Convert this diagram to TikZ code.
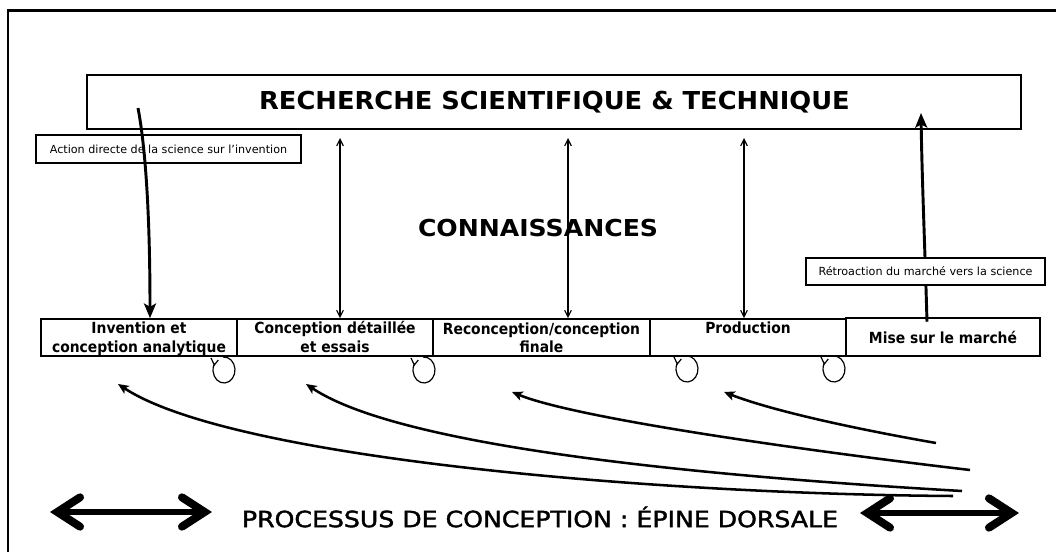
\documentclass[tikz,border=0pt]{standalone}
\usepackage{graphicx}
\usepackage{fontspec}
\setmainfont{DejaVu Sans}
\newfontfamily\cond{DejaVu Sans}[FakeStretch=0.905]
\newfontfamily\medium{DejaVu Sans}[FakeBold=1.6]
\usetikzlibrary{arrows.meta,fit,calc}
\newcommand\fitcaps[3]{\resizebox{#1}{#2}{\raisebox{0pt}[\fontcharht\font`X][0pt]{#3}}}
\begin{document}
\begin{tikzpicture}[x=0.75pt,y=-0.75pt,
  box/.style={draw, line width=1.1pt, inner sep=0pt},
  lbl/.style={draw, line width=0.9pt, inner sep=0pt},
  cell/.style={draw, line width=1.2pt, inner sep=0pt},
  cellm/.style={draw, line width=1.9pt, inner sep=0pt},
  txt/.style={inner sep=0pt},
  rowtxt/.style={inner sep=0pt, anchor=base, font=\cond\bfseries\fontsize{11.5pt}{14pt}\selectfont},
  thinarr/.style={line width=0.85pt, {Straight Barb[length=5pt,width=5pt]}-{Straight Barb[length=5pt,width=5pt]}},
  thickarr/.style={line width=2.2pt, -{Stealth[length=11pt,width=9pt,inset=2.5pt]}},
  curvarr/.style={line width=1.9pt, -{Stealth[length=8pt,width=7pt,inset=2pt]}},
  dbl/.style={line width=4.5pt,
    {Straight Barb[length=17pt,width=22pt,line width=6pt,line cap=round,line join=miter]}-{Straight Barb[length=17pt,width=22pt,line width=6pt,line cap=round,line join=miter]}},
  loopline/.style={line width=0.9pt},
  frame/.style={line width=1.9pt}]
\useasboundingbox (0,0) rectangle (1056,552);
\fill[white] (0,0) rectangle (1056,552);
% frame
\draw[frame] (8,552) -- (8,10.5) -- (1056,10.5);
% top box
\node[box, fit={(87,75) (1021,129)}] (top) {};
\node[txt, font=\bfseries] (ttl) at (554.5,101) {\fitcaps{443pt}{13.5pt}{RECHERCHE SCIENTIFIQUE \& TECHNIQUE}};
% knowledge
\node[txt, font=\bfseries] (kn) at (538,228.5) {\fitcaps{180pt}{12.75pt}{CONNAISSANCES}};
% row boxes
\node[cell, fit={(41,319) (237,356)}] (b1) {};
\node[cell, fit={(237,319) (433,356)}] (b2) {};
\node[cell, fit={(433,319) (650,356)}] (b3) {};
\node[cell, fit={(650,319) (846,356)}] (b4) {};
\node[cellm, fit={(846,318) (1040,356)}] (b5) {};
\node[rowtxt] (t1a) at (139,333.5) {Invention et};
\node[rowtxt] (t1b) at (139,352) {conception analytique};
\node[rowtxt] (t2a) at (335,333.5) {Conception détaillée};
\node[rowtxt] (t2b) at (335,352) {et essais};
\node[rowtxt] (t3a) at (541.5,334) {Reconception/conception};
\node[rowtxt] (t3b) at (541.5,352.5) {finale};
\node[rowtxt] (t4a) at (748,333.5) {Production};
\node[rowtxt] (t5a) at (943,343) {Mise sur le marché};
% thin arrows
\coordinate (k2) at (340,138);
\coordinate (k3) at (568,138);
\coordinate (k4) at (744,138);
\draw[thinarr] (k2) -- (k2 |- b2.north);
\draw[thinarr] (k3) -- (k3 |- b3.north);
\draw[thinarr] (k4) -- (k4 |- b4.north);
% thick arrows
\coordinate (s5) at (921,113);
\draw[thickarr] ($(b5.north)+(-16,5)$) .. controls (925,250) and (922,180) .. (s5);
% label boxes
\node[lbl, fill=white, fit={(36,135) (301,163)}] (act) {};
\node[txt] (actt) at (act.center) {\resizebox{178pt}{!}{Action directe de la science sur l’invention}};
\node[lbl, fill=white, fit={(806,258) (1045,285)}] (ret) {};
\node[txt] (rett) at (ret.center) {\resizebox{160.5pt}{!}{Rétroaction du marché vers la science}};
% left thick arrow passes over its label box
\coordinate (s1) at (138,108);
\draw[thickarr] (s1) .. controls (146,150) and (150,220) .. ($(b1.north)+(11,0)$);
% loops
\foreach \cx/\cy [count=\i] in {224/370, 424/370, 687/369, 834/369} {
  \coordinate (L\i) at (\cx,\cy);
  \draw[loopline] (L\i) ++(-95:11 and 13) arc[start angle=-95,end angle=205,x radius=11,y radius=13];
  \draw[loopline] ($(L\i)+(-13,-12)$) -- ($(L\i)+(-9.7,-5)$) -- ($(L\i)+(-5.7,-10)$);
}
% curved arrows
\coordinate (cA0) at (936,443); \coordinate (cA1) at (724,392);
\coordinate (cB0) at (970,470); \coordinate (cB1) at (512,392);
\coordinate (cC0) at (962,491); \coordinate (cC1) at (306,384);
\coordinate (cD0) at (953,496); \coordinate (cD1) at (118,384);
\draw[curvarr] (cA0) .. controls (850,428) and (770,410) .. (cA1);
\draw[curvarr] (cB0) .. controls (800,450) and (575,418) .. (cB1);
\draw[curvarr] (cC0) .. controls (700,476) and (400,447) .. (cC1);
\draw[curvarr] (cD0) .. controls (650,494) and (230,458) .. (cD1);
% bottom
\coordinate (dl1) at (50,512); \coordinate (dl2) at (212,512);
\coordinate (dr1) at (860,513); \coordinate (dr2) at (1019,513);
\draw[dbl] (dl1) -- (dl2);
\draw[dbl] (dr1) -- (dr2);
\node[txt, font=\medium] (proc) at (540,519) {\fitcaps{447pt}{12.2pt}{PROCESSUS DE CONCEPTION : ÉPINE DORSALE}};
\end{tikzpicture}
\end{document}
